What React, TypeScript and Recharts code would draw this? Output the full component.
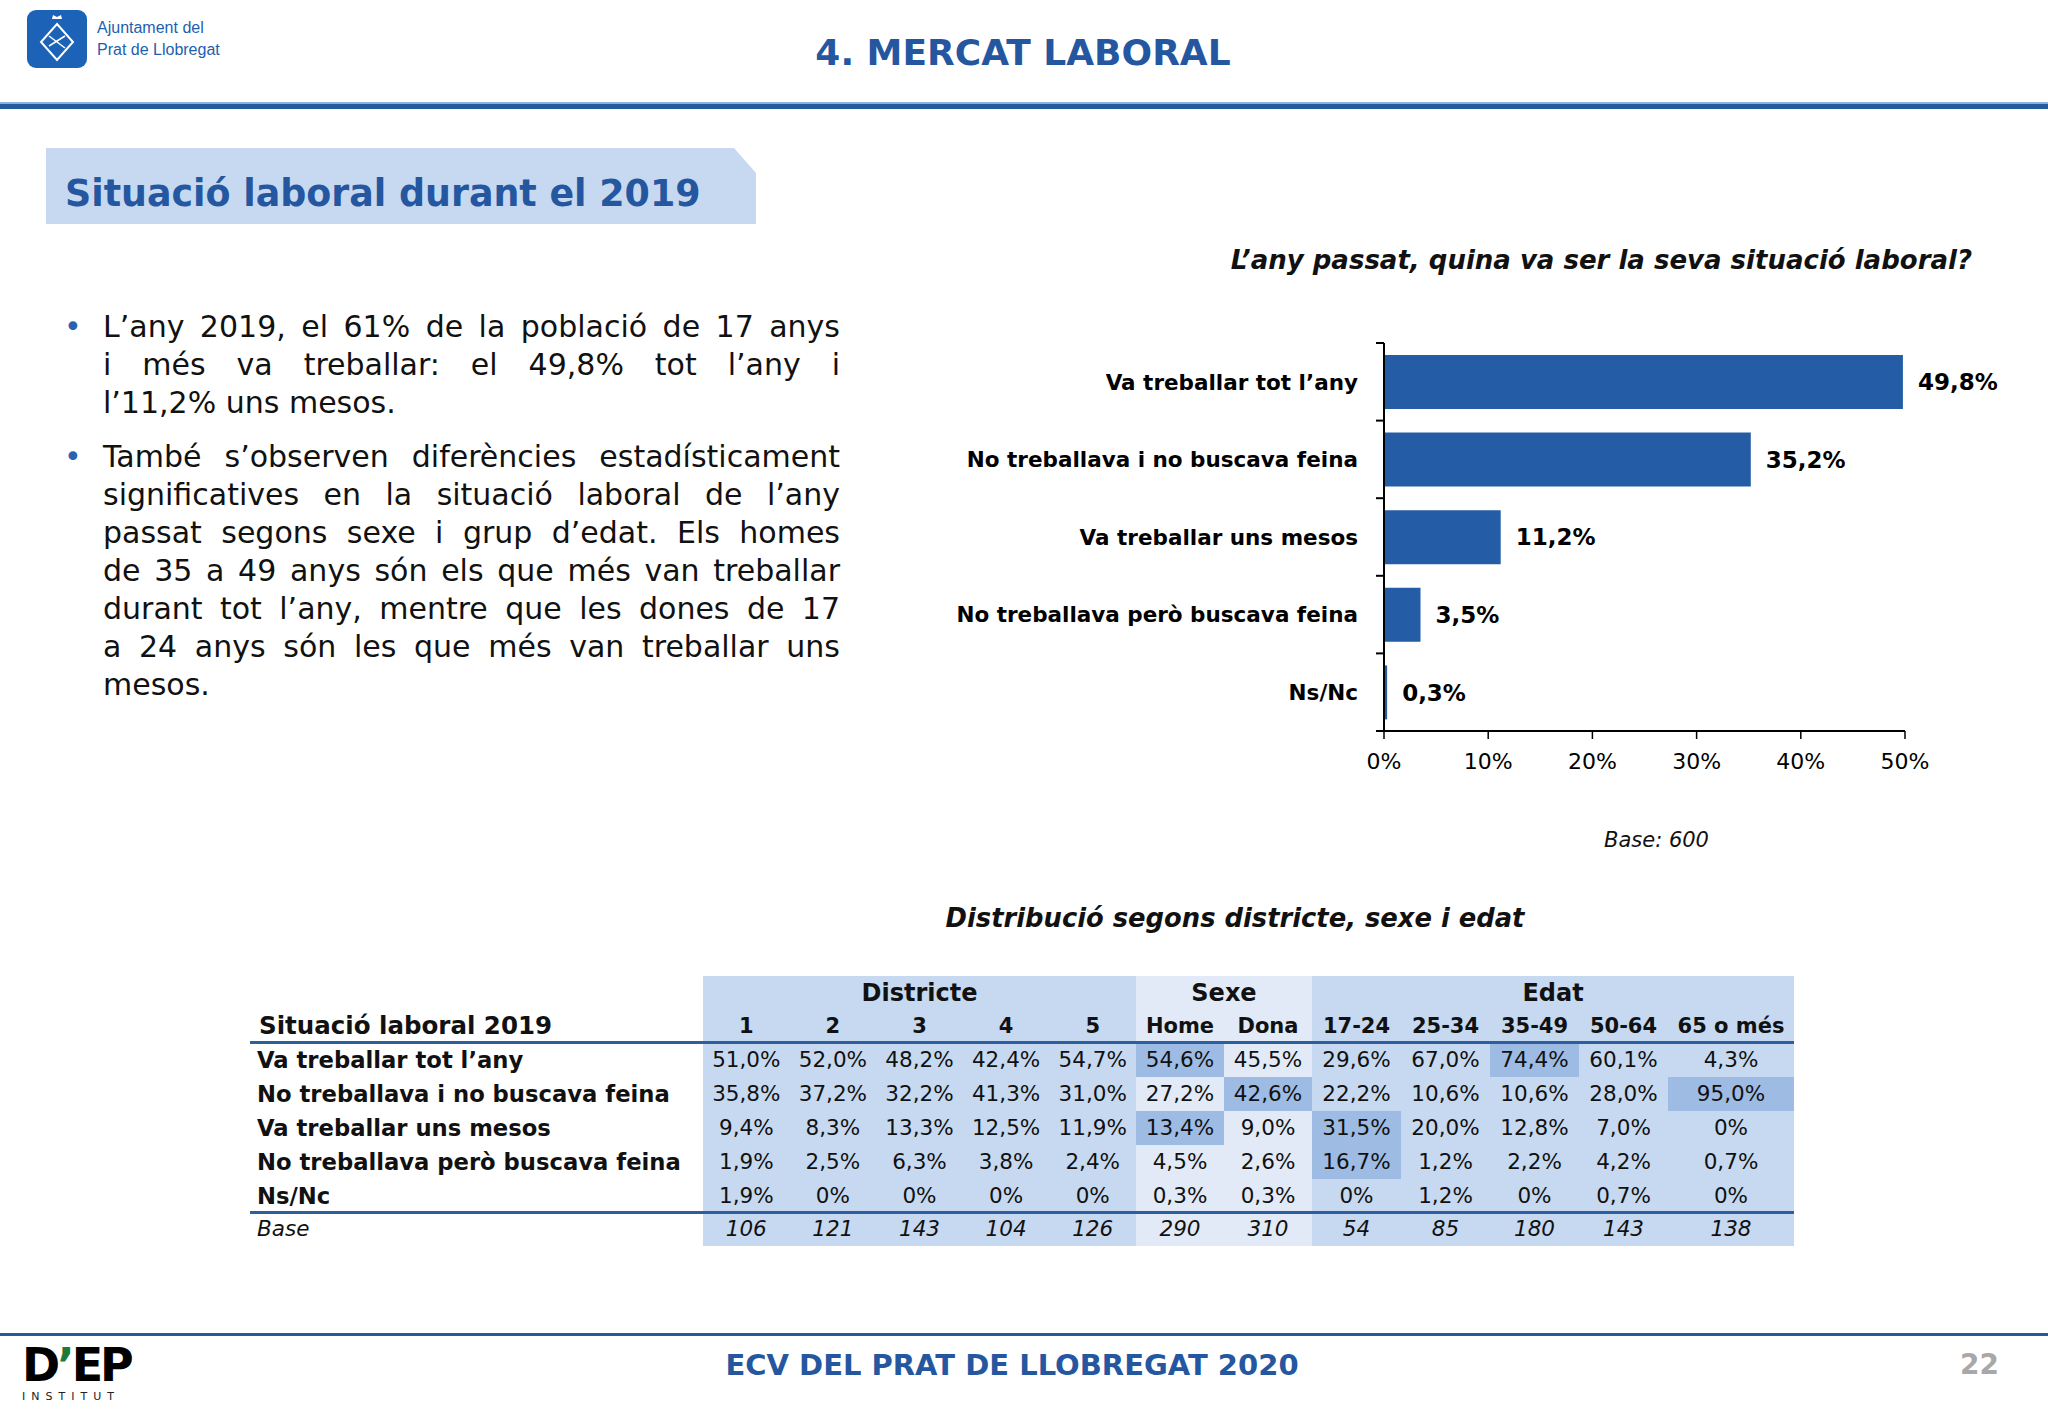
import React from "react";
import { BarChart, Bar, XAxis, YAxis, LabelList } from "recharts";

const FONT = "'DejaVu Sans', Verdana, sans-serif";
const BLUE = "#2457a0";
const BAR = "#245da5";

// chart data
const CATEGORIES = [
  "Va treballar tot l’any",
  "No treballava i no buscava feina",
  "Va treballar uns mesos",
  "No treballava però buscava feina",
  "Ns/Nc",
];
const SHARES = [49.8, 35.2, 11.2, 3.5, 0.3];
const X_TICKS = [0, 10, 20, 30, 40, 50];

// table data
const ROW_LABELS = [
  "Va treballar tot l’any",
  "No treballava i no buscava feina",
  "Va treballar uns mesos",
  "No treballava però buscava feina",
  "Ns/Nc",
];
const DISTRICTS = ["1", "2", "3", "4", "5"];
const SEXES = ["Home", "Dona"];
const AGES = ["17-24", "25-34", "35-49", "50-64", "65 o més"];
const CELL_VALUES = [
  [51.0, 52.0, 48.2, 42.4, 54.7, 54.6, 45.5, 29.6, 67.0, 74.4, 60.1, 4.3],
  [35.8, 37.2, 32.2, 41.3, 31.0, 27.2, 42.6, 22.2, 10.6, 10.6, 28.0, 95.0],
  [9.4, 8.3, 13.3, 12.5, 11.9, 13.4, 9.0, 31.5, 20.0, 12.8, 7.0, 0],
  [1.9, 2.5, 6.3, 3.8, 2.4, 4.5, 2.6, 16.7, 1.2, 2.2, 4.2, 0.7],
  [1.9, 0, 0, 0, 0, 0.3, 0.3, 0, 1.2, 0, 0.7, 0],
];
const BASES = [106, 121, 143, 104, 126, 290, 310, 54, 85, 180, 143, 138];
// [row, col] of the significant cells
const HIGHLIGHTED = [[0, 5], [0, 9], [1, 6], [1, 11], [2, 5], [2, 7], [3, 7]];

const PARAGRAPHS = [
  ["L’any 2019, el 61% de la població de 17 anys", "i més va treballar: el 49,8% tot l’any i", "l’11,2% uns mesos."],
  [
    "També s’observen diferències estadísticament",
    "significatives en la situació laboral de l’any",
    "passat segons sexe i grup d’edat. Els homes",
    "de 35 a 49 anys són els que més van treballar",
    "durant tot l’any, mentre que les dones de 17",
    "a 24 anys són les que més van treballar uns",
    "mesos.",
  ],
];

const pct = (v: number) => (v === 0 ? "0%" : `${v.toFixed(1).replace(".", ",")}%`);

function abs(left: number, top: number, extra: React.CSSProperties = {}): React.CSSProperties {
  return { position: "absolute", left, top, ...extra };
}

function Header() {
  return (
    <>
      <svg style={abs(27, 10)} width={60} height={58}>
        <rect x={0} y={0} width={60} height={58} rx={9} fill="#1c63b7" />
        <path d="M30 14 L46 32 L30 50 L14 32 Z" fill="none" stroke="#fff" strokeWidth={2} />
        <path d="M22 36 L38 26 M22 26 L38 38" stroke="#fff" strokeWidth={1.5} />
        <path d="M25 9 L35 9 L34 5 L30 7 L26 5 Z" fill="#fff" />
      </svg>
      <div style={abs(97, 17, { fontFamily: "'Liberation Sans Narrow', 'Liberation Sans', sans-serif", fontSize: 16, lineHeight: "22px", color: "#1c5fb0" })}>
        Ajuntament del
        <br />
        Prat de Llobregat
      </div>
      <div style={abs(0, 32, { width: 2046, textAlign: "center", fontSize: 36, fontWeight: "bold", color: BLUE })}>4. MERCAT LABORAL</div>
      <div style={abs(0, 102, { width: 2048, height: 2, background: "#8fb0dc" })} />
      <div style={abs(0, 104, { width: 2048, height: 5, background: "#245a9e" })} />
      <div
        style={abs(46, 148, {
          width: 710,
          height: 76,
          background: "#c6d9f0",
          clipPath: "polygon(0 0, 688px 0, 710px 25px, 710px 76px, 0 76px)",
        })}
      />
      <div style={abs(65, 172, { fontSize: 36.4, fontWeight: "bold", color: BLUE, lineHeight: "44px" })}>Situació laboral durant el 2019</div>
    </>
  );
}

function Bullets() {
  let top = 308;
  const out: React.ReactNode[] = [];
  PARAGRAPHS.forEach((lines, p) => {
    out.push(
      <div key={`b${p}`} style={abs(64, top, { fontSize: 30, lineHeight: "38px", color: "#2a62b0" })}>
        •
      </div>
    );
    lines.forEach((line, i) => {
      const last = i === lines.length - 1;
      out.push(
        <div
          key={`${p}-${i}`}
          style={abs(103, top + i * 38, {
            width: 737,
            fontSize: 30,
            lineHeight: "38px",
            color: "#111",
            textAlign: last ? "left" : "justify",
            textAlignLast: last ? "left" : "justify",
          })}
        >
          {line}
        </div>
      );
    });
    top += lines.length * 38 + 16;
  });
  return <>{out}</>;
}

const TICK_GAP = 26;

// label plus Excel-style tick marks on the category boundaries
function CategoryTick(props: any) {
  const { x, y, payload, index } = props;
  const axisX = x + TICK_GAP;
  const half = payload && payload.offset ? payload.offset : 38.8;
  return (
    <g>
      <text x={x} y={y} dy="0.36em" textAnchor="end" fill="#000" fontSize={21.5} fontWeight="bold">
        {payload.value}
      </text>
      <line x1={axisX - 8} x2={axisX} y1={y - half} y2={y - half} stroke="#000" strokeWidth={2} />
      {index === CATEGORIES.length - 1 && (
        <line x1={axisX - 8} x2={axisX} y1={y + half} y2={y + half} stroke="#000" strokeWidth={2} />
      )}
    </g>
  );
}

function SituationChart() {
  const data = CATEGORIES.map((name, i) => ({ name, value: SHARES[i] }));
  return (
    <>
      <div style={abs(1000, 245, { width: 972, textAlign: "right", fontSize: 26, fontWeight: "bold", fontStyle: "italic", color: "#111" })}>
        L’any passat, quina va ser la seva situació laboral?
      </div>
      <div style={abs(900, 300)}>
        <BarChart
          layout="vertical"
          width={1148}
          height={500}
          data={data}
          margin={{ top: 43, right: 143, bottom: 29, left: 0 }}
          barSize={54}
        >
          <XAxis
            type="number"
            domain={[0, 50]}
            ticks={X_TICKS}
            tickFormatter={(v) => `${v}%`}
            height={40}
            axisLine={{ stroke: "#000", strokeWidth: 2 }}
            tickLine={{ stroke: "#000", strokeWidth: 1.5 }}
            tickSize={8}
            tickMargin={14}
            tick={{ fill: "#000", fontSize: 22 }}
          />
          <YAxis
            type="category"
            dataKey="name"
            width={484}
            interval={0}
            tickLine={false}
            tickSize={0}
            tickMargin={TICK_GAP}
            axisLine={{ stroke: "#000", strokeWidth: 2 }}
            tick={<CategoryTick />}
          />
          <Bar dataKey="value" fill={BAR} isAnimationActive={false}>
            <LabelList
              dataKey="value"
              position="right"
              offset={15}
              formatter={(v: any) => pct(Number(v))}
              style={{ fill: "#000", fontSize: 23, fontWeight: "bold" }}
            />
          </Bar>
        </BarChart>
      </div>
      <div style={abs(1604, 828, { fontSize: 21, fontStyle: "italic", color: "#111" })}>Base: 600</div>
    </>
  );
}

// table geometry
const T_LEFT = 703;
const COL_W = [86.6, 86.6, 86.6, 86.6, 86.6, 88, 88, 89, 89, 89, 89, 126];
const COL_X = COL_W.reduce<number[]>((acc, w, i) => [...acc, acc[i] + w], [T_LEFT]);
const T_RIGHT = COL_X[COL_X.length - 1];
const ROW_C = [1060, 1094, 1128, 1162, 1196];
const ROW_H = 34;

function cellText(text: string, col: number, cy: number, style: React.CSSProperties, key: string) {
  return (
    <div key={key} style={abs(COL_X[col], cy - 17, { width: COL_W[col], height: 34, lineHeight: "34px", textAlign: "center", ...style })}>
      {text}
    </div>
  );
}

function DistributionTable() {
  const cols = [...DISTRICTS, ...SEXES, ...AGES];
  const groups = [
    { label: "Districte", from: 0, to: 5, bg: "#c6d9f0" },
    { label: "Sexe", from: 5, to: 7, bg: "#e1eaf6" },
    { label: "Edat", from: 7, to: 12, bg: "#c6d9f0" },
  ];
  const isHi = (r: number, c: number) => HIGHLIGHTED.some(([hr, hc]) => hr === r && hc === c);
  return (
    <>
      <div style={abs(0, 903, { width: 2470, textAlign: "center", fontSize: 25.8, fontWeight: "bold", fontStyle: "italic", color: "#111" })}>
        Distribució segons districte, sexe i edat
      </div>
      {groups.map((g) => (
        <div key={g.label} style={abs(COL_X[g.from], 976, { width: COL_X[g.to] - COL_X[g.from], height: 270, background: g.bg })} />
      ))}
      {ROW_C.map((cy, r) =>
        cols.map((_, c) =>
          isHi(r, c) ? (
            <div key={`h${r}-${c}`} style={abs(COL_X[c], cy - ROW_H / 2, { width: COL_W[c], height: ROW_H, background: "#9dbbe3" })} />
          ) : null
        )
      )}
      {groups.map((g) => (
        <div
          key={`l${g.label}`}
          style={abs(COL_X[g.from], 977, { width: COL_X[g.to] - COL_X[g.from], height: 32, lineHeight: "32px", textAlign: "center", fontSize: 24, fontWeight: "bold", color: "#111" })}
        >
          {g.label}
        </div>
      ))}
      <div style={abs(259, 1010, { fontSize: 24.5, fontWeight: "bold", color: "#111", lineHeight: "32px" })}>Situació laboral 2019</div>
      {cols.map((c, i) => cellText(c, i, 1026, { fontSize: 21, fontWeight: "bold", color: "#111" }, `c${i}`))}
      <div style={abs(250, 1041, { width: T_RIGHT - 250, height: 3, background: "#2d5f9f" })} />
      {ROW_C.map((cy, r) => (
        <React.Fragment key={`r${r}`}>
          <div style={abs(257, cy - 17, { height: 34, lineHeight: "34px", fontSize: 22.7, fontWeight: "bold", color: "#111", whiteSpace: "nowrap" })}>
            {ROW_LABELS[r]}
          </div>
          {CELL_VALUES[r].map((v, c) => cellText(pct(v), c, cy, { fontSize: 21.5, color: "#111" }, `v${r}-${c}`))}
        </React.Fragment>
      ))}
      <div style={abs(250, 1211, { width: T_RIGHT - 250, height: 3, background: "#2d5f9f" })} />
      <div style={abs(257, 1212, { height: 34, lineHeight: "34px", fontSize: 21.5, fontStyle: "italic", color: "#111" })}>Base</div>
      {BASES.map((b, c) => cellText(String(b), c, 1229, { fontSize: 21.5, fontStyle: "italic", color: "#111" }, `b${c}`))}
    </>
  );
}

function Footer() {
  return (
    <>
      <div style={abs(0, 1333, { width: 2048, height: 3, background: "#245a9e" })} />
      <div style={abs(22, 1340, { fontSize: 46, fontWeight: "bold", letterSpacing: -3, color: "#000", lineHeight: "50px" })}>
        D<span style={{ color: "#1f7a3a" }}>’</span>EP
      </div>
      <div style={abs(22, 1390, { fontSize: 11, letterSpacing: 6, color: "#222" })}>INSTITUT</div>
      <div style={abs(0, 1348, { width: 2024, textAlign: "center", fontSize: 29, fontWeight: "bold", color: BLUE })}>
        ECV DEL PRAT DE LLOBREGAT 2020
      </div>
      <div style={abs(1960, 1348, { fontSize: 28, fontWeight: "bold", color: "#a8a8a8" })}>22</div>
    </>
  );
}

export default function App() {
  return (
    <div style={{ position: "absolute", left: 0, top: 0, width: 2048, height: 1418, background: "#fff", overflow: "hidden", fontFamily: FONT }}>
      <Header />
      <Bullets />
      <SituationChart />
      <DistributionTable />
      <Footer />
    </div>
  );
}
